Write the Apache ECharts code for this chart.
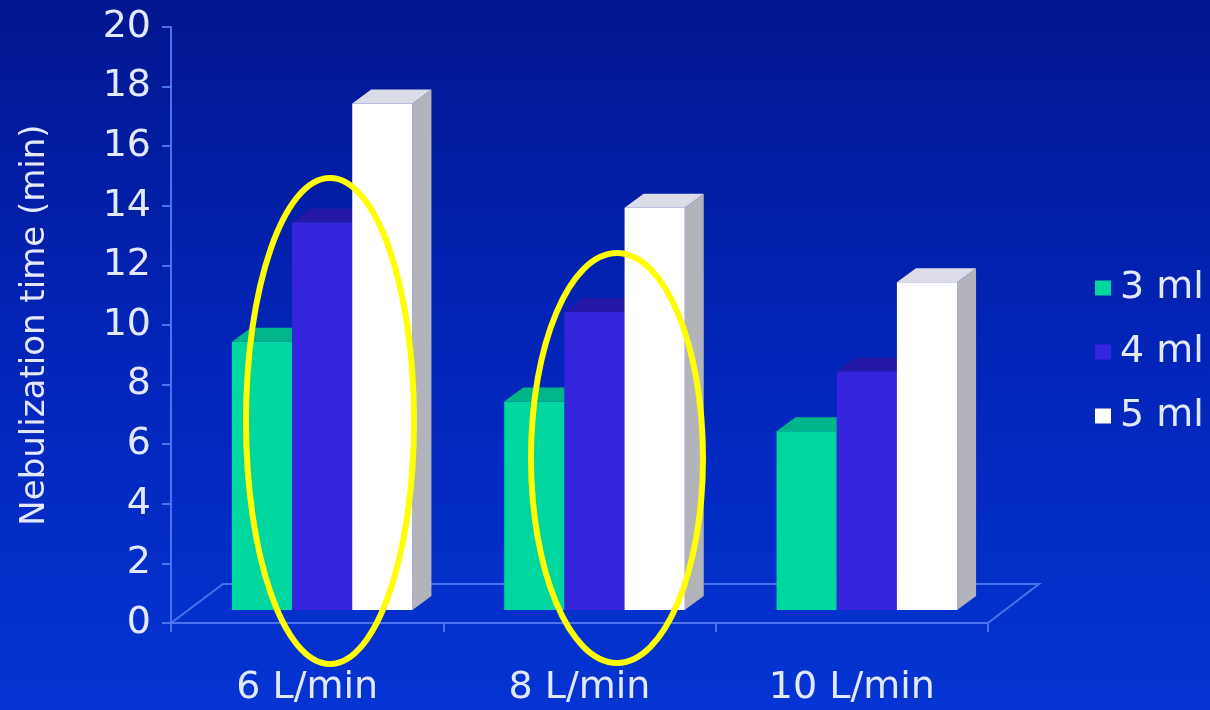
<!DOCTYPE html>
<html>
<head>
<meta charset="utf-8">
<script src="https://cdn.jsdelivr.net/npm/echarts@6/dist/echarts.min.js"></script>
<style>
  html, body { margin: 0; padding: 0; background: #0323B8; }
  #chart { width: 1210px; height: 710px; }
</style>
</head>
<body>
<div id="chart"></div>
<script>
// Nebulization time by flow rate and fill volume
const categories = ['6 L/min', '8 L/min', '10 L/min'];
const seriesNames = ['3 ml', '4 ml', '5 ml'];
const ml3 = [9, 7, 6];
const ml4 = [13, 10, 8];
const ml5 = [17, 13.5, 11];
const yMin = 0, yMax = 20, yStep = 2;
const axisTitle = 'Nebulization time (min)';

const textColor = '#E2E8FF';
const lineColor = '#4C72EE';
const fontFamily = '"DejaVu Sans", "Liberation Sans", Arial, sans-serif';

// face / top / side shades for each volume
const palette = [
  { face: '#00D6A0', top: '#00B48A', side: '#009C78' },
  { face: '#3526DD', top: '#2618A6', side: '#2416A0' },
  { face: '#FFFFFF', top: '#DCDCE8', side: '#B3B3BC' }
];

// 3D column: front face, top face and right side, sitting on the floor plane
function columnRenderer(slot) {
  const c = palette[slot];
  return function (params, api) {
    const i = api.value(0), v = api.value(1);
    const p0 = api.coord([i, 0]);
    const p1 = api.coord([i, v]);
    const band = api.size([1, 0])[0];
    const bw = band * 0.221;
    const shiftX = band * 0.055, shiftY = 13;
    const dx = 19, dy = 14;
    const x0 = p0[0] + shiftX - 1.5 * bw + slot * bw;
    const yb = p0[1] - shiftY, yt = p1[1] - shiftY;
    return {
      type: 'group',
      children: [
        { type: 'polygon', shape: { points: [[x0 + bw, yt], [x0 + bw + dx, yt - dy], [x0 + bw + dx, yb - dy], [x0 + bw, yb]] },
          style: { fill: c.side } },
        { type: 'polygon', shape: { points: [[x0, yt], [x0 + dx, yt - dy], [x0 + bw + dx, yt - dy], [x0 + bw, yt]] },
          style: { fill: c.top } },
        { type: 'rect', shape: { x: x0, y: yt, width: bw, height: yb - yt },
          style: { fill: c.face } }
      ]
    };
  };
}

// floor outline behind the columns
function floorRenderer(params, api) {
  const band = api.size([1, 0])[0];
  const a = api.coord([0, 0]);
  const b = api.coord([categories.length - 1, 0]);
  const left = a[0] - band / 2, right = b[0] + band / 2, y = a[1];
  return {
    type: 'polyline',
    shape: { points: [[left, y], [left + 52, y - 39], [right + 51, y - 39], [right, y]] },
    style: { stroke: lineColor, lineWidth: 2, fill: null }
  };
}

const values = [ml3, ml4, ml5];
const columnSeries = seriesNames.map((name, s) => ({
  name: name,
  type: 'custom',
  renderItem: columnRenderer(s),
  itemStyle: { color: palette[s].face },
  encode: { x: 0, y: 1 },
  data: values[s].map((v, i) => [i, v]),
  z: 3 + s
}));

const chart = echarts.init(document.getElementById('chart'));
chart.setOption({
  animation: false,
  backgroundColor: {
    type: 'linear', x: 0, y: 0, x2: 0, y2: 1,
    colorStops: [
      { offset: 0, color: '#03168F' },
      { offset: 0.5, color: '#0225B9' },
      { offset: 1, color: '#0434D2' }
    ]
  },
  grid: { left: 171, right: 222, top: 27, bottom: 87, containLabel: false, outerBoundsMode: 'none' },
  legend: {
    orient: 'vertical',
    left: 1090,
    top: 262,
    itemWidth: 16,
    itemHeight: 15,
    itemGap: 22,
    icon: 'rect',
    data: seriesNames,
    textStyle: { color: textColor, fontSize: 38, fontFamily: fontFamily, lineHeight: 42, padding: [0, 0, 0, 4] },
    selectedMode: false
  },
  xAxis: {
    type: 'category',
    data: categories,
    axisLine: { show: true, lineStyle: { color: lineColor, width: 2 } },
    axisTick: { show: true, length: 9, lineStyle: { color: lineColor, width: 2 } },
    axisLabel: { color: textColor, fontSize: 38, fontFamily: fontFamily, margin: 46 },
    splitLine: { show: false }
  },
  yAxis: {
    type: 'value',
    min: yMin, max: yMax, interval: yStep,
    name: axisTitle,
    nameLocation: 'middle',
    nameGap: 119,
    nameTextStyle: { color: textColor, fontSize: 34, fontFamily: fontFamily },
    axisLine: { show: true, lineStyle: { color: lineColor, width: 2 } },
    axisTick: { show: true, length: 9, lineStyle: { color: lineColor, width: 2 } },
    axisLabel: { color: textColor, fontSize: 38, fontFamily: fontFamily, margin: 20 },
    splitLine: { show: false }
  },
  graphic: [
    { type: 'ellipse', z: 100, shape: { cx: 330, cy: 421, rx: 84, ry: 243 },
      style: { fill: null, stroke: '#FFFF00', lineWidth: 6 } },
    { type: 'ellipse', z: 100, shape: { cx: 617, cy: 458, rx: 86, ry: 205 },
      style: { fill: null, stroke: '#FFFF00', lineWidth: 6 } }
  ],
  series: [
    {
      name: 'floor',
      type: 'custom',
      silent: true,
      renderItem: floorRenderer,
      encode: { x: 0, y: 1 },
      data: [[0, 0]],
      z: 1
    }
  ].concat(columnSeries)
});
</script>
</body>
</html>
